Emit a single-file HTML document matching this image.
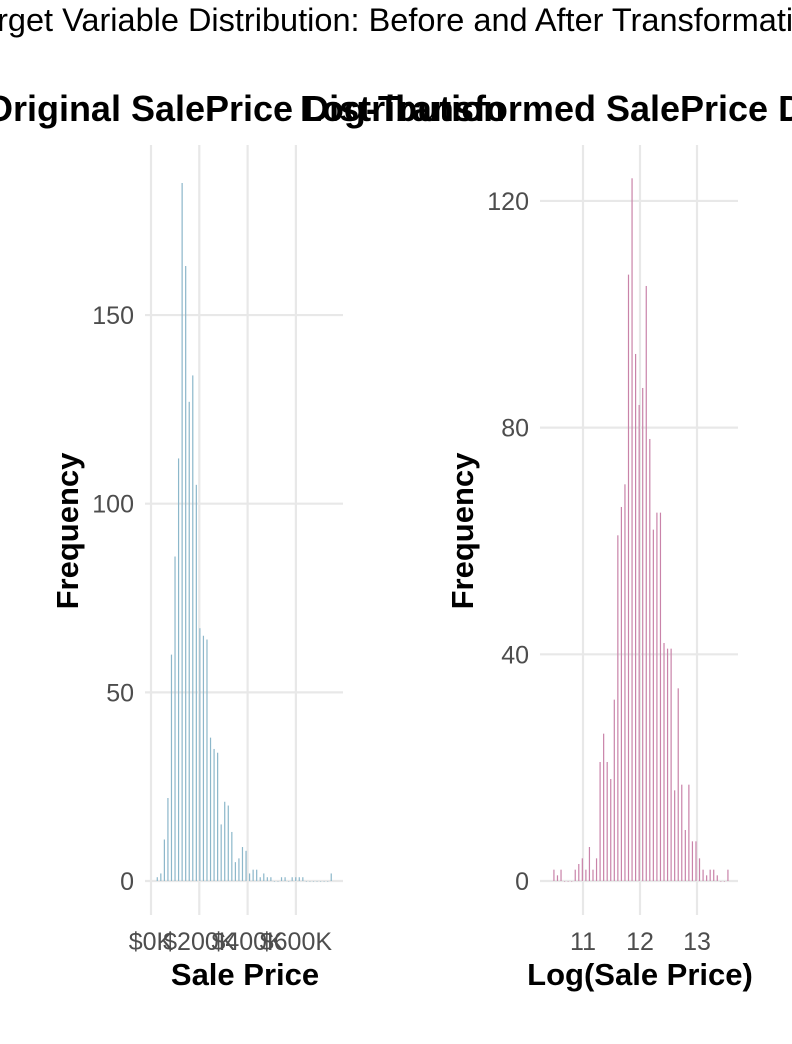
<!DOCTYPE html>
<html><head><meta charset="utf-8"><style>
html,body{margin:0;padding:0;background:#fff;overflow:hidden}
svg{display:block;font-family:"Liberation Sans",Arial,sans-serif}
</style></head><body>
<svg id="chart" width="792" height="1044" viewBox="0 0 792 1044" xmlns="http://www.w3.org/2000/svg">
<text x="396" y="31" text-anchor="middle" font-size="32.5" fill="#000">Target Variable Distribution: Before and After Transformation</text>
<g id="left"></g>
<g id="right"></g>
</svg>
<script>
const leftCounts = [1,2,11,22,60,86,112,185,163,127,134,105,67,65,64,38,35,34,15,21,20,13,5,6,9,8,2,3,3,1,2,1,1,0,0,1,1,0,1,1,1,1,0,0,0,0,0,0,0,2];
const leftFirstCenter = 26000;
const leftBinWidth = 14700;
const leftXTicks = [0,200000,400000,600000];
const leftXTickLabels = ["$0K","$200K","$400K","$600K"];
const leftYTicks = [0,50,100,150];

const rightCounts = [2,1,2,0,0,0,2,3,4,2,6,2,4,21,26,21,18,32,61,66,70,107,124,93,84,87,105,78,62,65,65,42,41,41,16,34,17,9,17,7,7,4,2,1,2,2,1,0,0,2];
const rightFirstCenter = 10.49;
const rightBinWidth = 0.0623;
const rightXTicks = [11,12,13];
const rightXTickLabels = ["11","12","13"];
const rightYTicks = [0,40,80,120];

const NS = "http://www.w3.org/2000/svg";
function mk(parent, tag, attrs, text){
  const e = document.createElementNS(NS, tag);
  for (const k in attrs) e.setAttribute(k, attrs[k]);
  if (text !== undefined) e.textContent = text;
  parent.appendChild(e);
  return e;
}

function drawPanel(g, cfg){
  const xs = v => cfg.x0 + (v - cfg.xv0) * cfg.xk;
  const ys = v => cfg.y0 - v * cfg.yk;
  cfg.yTicks.forEach(t => {
    const l = mk(g, "line", {x1:cfg.left, x2:cfg.right, y1:ys(t), y2:ys(t), stroke:"#e8e8e8", "stroke-width":2.2});
    
    
    const tx = mk(g, "text", {x:cfg.left - 11, y:ys(t) + 9, "text-anchor":"end", "font-size":25, fill:"#4d4d4d"}, String(t));
    
    
  });
  cfg.xTicks.forEach((t, i) => {
    const l = mk(g, "line", {x1:xs(t), x2:xs(t), y1:cfg.top, y2:cfg.bottom, stroke:"#e8e8e8", "stroke-width":2.2});
    
    
    const tx = mk(g, "text", {x:xs(t), y:950, "text-anchor":"middle", "font-size":25, fill:"#4d4d4d"}, cfg.xLabels[i]);
    
    
  });
  cfg.counts.forEach((c, i) => {
    const cx = xs(cfg.first + i * cfg.bw);
    const h = c * cfg.yk;
    const r = mk(g, "rect", {x:cx - 0.6, y:cfg.y0 - h, width:1.2, height:Math.max(h, 0.5), fill:cfg.color});
    
    
  });
  const pt = mk(g, "text", {x:cfg.titleX, y:121, "text-anchor":"middle", "font-size":36, "font-weight":"bold", fill:"#000"}, cfg.title);
  
  
  const xt = mk(g, "text", {x:cfg.titleX, y:985, "text-anchor":"middle", "font-size":31, "font-weight":"bold", fill:"#000"}, cfg.xTitle);
  
  
  const yt = mk(g, "text", {x:0, y:0, "text-anchor":"middle", "font-size":31, "font-weight":"bold", fill:"#000", transform:"translate(" + cfg.yTitleX + ",531) rotate(-90)"}, "Frequency");
  
  
}

drawPanel(document.getElementById("left"), {
  left:145, right:343, top:145, bottom:915,
  x0:151, xv0:0, xk:48.3/200000, y0:881, yk:3.773,
  counts:leftCounts, first:leftFirstCenter, bw:leftBinWidth,
  xTicks:leftXTicks, xLabels:leftXTickLabels, yTicks:leftYTicks,
  color:"#8cb7ca", title:"Original SalePrice Distribution", titleX:245,
  xTitle:"Sale Price", yTitleX:78
});
drawPanel(document.getElementById("right"), {
  left:540, right:738, top:145, bottom:915,
  x0:583, xv0:11, xk:57, y0:881, yk:5.667,
  counts:rightCounts, first:rightFirstCenter, bw:rightBinWidth,
  xTicks:rightXTicks, xLabels:rightXTickLabels, yTicks:rightYTicks,
  color:"#c983a9", title:"Log-Transformed SalePrice Distribution", titleX:640,
  xTitle:"Log(Sale Price)", yTitleX:473
});
</script>
</body></html>
